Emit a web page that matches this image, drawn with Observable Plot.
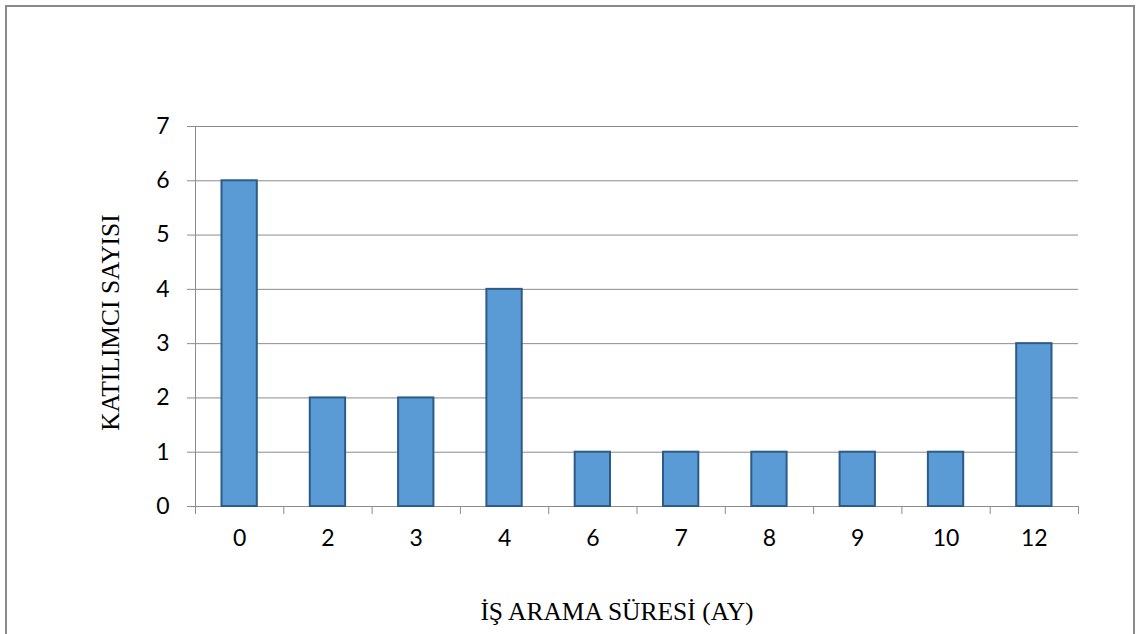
<!DOCTYPE html>
<html>
<head>
<meta charset="utf-8">
<script src="https://cdn.jsdelivr.net/npm/d3@7"></script>
<script src="https://cdn.jsdelivr.net/npm/@observablehq/plot@0.6"></script>
<style>
  html, body { margin: 0; padding: 0; background: #fff; }
  #wrap { position: relative; width: 1139px; height: 634px; overflow: hidden; }
  #border { position: absolute; left: 5px; top: 5px; width: 1130px; height: 660px;
            border: 2px solid #8a8a8a; box-sizing: border-box; pointer-events: none; }
</style>
</head>
<body>
<div id="wrap"><div id="border"></div></div>
<script>
// Job-search duration (months) and number of participants
const categories = ["0", "2", "3", "4", "6", "7", "8", "9", "10", "12"];
const counts = [6, 2, 2, 4, 1, 1, 1, 1, 1, 3];
const yTicks = [0, 1, 2, 3, 4, 5, 6, 7];
const xTitle = "İŞ ARAMA SÜRESİ (AY)";
const yTitle = "KATILIMCI SAYISI";

const rows = categories.map((c, i) => ({label: c, idx: i, count: counts[i]}));

const W = 1139, H = 634;
const mL = 195, mR = 61, mT = 126, mB = 128;
const step = (W - mL - mR) / categories.length;
const inset = step * 0.3;
const gridColor = "#8c8c8c";
const serif = "'Liberation Serif', 'Times New Roman', serif";

const chart = Plot.plot({
  width: W,
  height: H,
  marginLeft: mL,
  marginRight: mR,
  marginTop: mT,
  marginBottom: mB,
  style: {fontFamily: "Lato, 'Open Sans', sans-serif", fontSize: "23px", color: "#000", background: "transparent"},
  x: {domain: [0, categories.length], label: null},
  y: {domain: [0, 7], label: null},
  marks: [
    Plot.gridY(yTicks, {stroke: gridColor, strokeOpacity: 1, strokeWidth: 1}),
    Plot.axisY(yTicks, {tickSize: 8, tickPadding: 18, tickFormat: "d", stroke: gridColor, fill: "#000", label: null, fontSize: 23}),
    Plot.ruleX([0], {stroke: gridColor, strokeWidth: 1}),
    // category boundaries
    Plot.axisX(d3.range(categories.length + 1), {tickSize: 8, tickFormat: () => "", stroke: gridColor, label: null}),
    // category labels at band centres
    Plot.axisX(categories.map((c, i) => i + 0.5), {
      tickSize: 0, tickPadding: 23, tickFormat: v => categories[Math.floor(v)], label: null, fill: "#000", fontSize: 23
    }),
    Plot.rectY(rows, {
      x1: "idx", x2: d => d.idx + 1, y: "count",
      insetLeft: inset, insetRight: inset,
      fill: "#5b9bd5", stroke: "#2d5b88", strokeWidth: 2
    }),
    Plot.text([xTitle], {
      frameAnchor: "bottom", dy: 105, dx: -20, textAnchor: "middle", lineAnchor: "middle",
      fontFamily: serif, fontSize: 25.5, fill: "#000"
    }),
    Plot.text([yTitle], {
      frameAnchor: "left", dx: -85, dy: 6, rotate: -90, textAnchor: "middle", lineAnchor: "middle",
      fontFamily: serif, fontSize: 25.5, fill: "#000"
    })
  ]
});

document.getElementById("wrap").prepend(chart);
</script>
</body>
</html>
